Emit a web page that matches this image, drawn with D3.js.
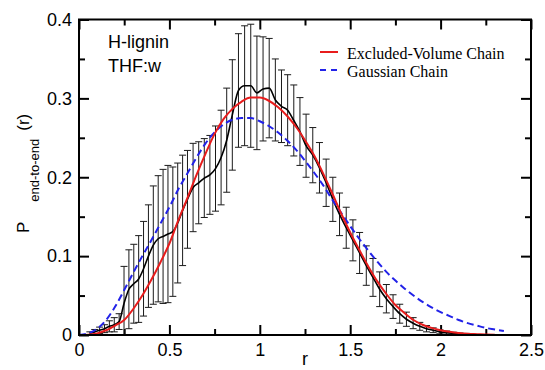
<!DOCTYPE html>
<html>
<head>
<meta charset="utf-8">
<script src="https://cdn.jsdelivr.net/npm/d3@7"></script>
<style>
  body { margin: 0; background: #fff; }
  svg { display: block; }
</style>
</head>
<body>
<svg id="chart" width="545" height="370"></svg>
<script>
// simulated histogram: bin centres, mean and std
let rBins = [0.06, 0.087, 0.114, 0.141, 0.168, 0.195, 0.222, 0.249, 0.276, 0.303, 0.33, 0.357, 0.384, 0.411, 0.438, 0.465, 0.492, 0.519, 0.546, 0.573, 0.6,
    0.631, 0.662, 0.693, 0.724, 0.755, 0.786, 0.817, 0.848,
    0.882, 0.916, 0.95, 0.984, 1.018, 1.052, 1.086, 1.12, 1.154, 1.188, 1.222, 1.256,
    1.293, 1.33, 1.367, 1.404, 1.441, 1.478, 1.515, 1.552, 1.589, 1.626, 1.663, 1.7, 1.737, 1.774, 1.811, 1.848, 1.885, 1.922, 1.959, 1.996, 2.033, 2.07, 2.107, 2.144, 2.18];
let meanP = [0.002, 0.004, 0.006, 0.008, 0.011, 0.013, 0.017, 0.04, 0.058, 0.065, 0.071, 0.084, 0.1, 0.114, 0.122, 0.125, 0.128, 0.131, 0.142, 0.158, 0.172,
    0.187, 0.193, 0.199, 0.203, 0.211, 0.225, 0.247, 0.279,
    0.31, 0.316, 0.316, 0.307, 0.312, 0.313, 0.298, 0.29, 0.285, 0.272, 0.258, 0.24,
    0.228, 0.212, 0.193, 0.172, 0.153, 0.136, 0.12, 0.104, 0.088, 0.073, 0.058, 0.046, 0.036, 0.027, 0.02, 0.015, 0.011, 0.008, 0.006, 0.004, 0.003, 0.002, 0.0015, 0.001, 0.0005];
let errP = [0.002, 0.003, 0.004, 0.005, 0.007, 0.009, 0.01, 0.047, 0.05, 0.05, 0.055, 0.06, 0.065, 0.075, 0.08, 0.085, 0.087, 0.082, 0.076, 0.07, 0.062,
    0.056, 0.052, 0.05, 0.05, 0.054, 0.06, 0.066, 0.07,
    0.072, 0.076, 0.078, 0.072, 0.066, 0.063, 0.052, 0.046, 0.045, 0.045, 0.043, 0.04,
    0.035, 0.032, 0.03, 0.028, 0.027, 0.026, 0.026, 0.026, 0.025, 0.024, 0.022, 0.018, 0.015, 0.012, 0.009, 0.007, 0.005, 0.004, 0.003, 0.0025, 0.002, 0.0015, 0.001, 0.001, 0.0005];

// model curves
let rModel = [0, 0.05, 0.1, 0.15, 0.2, 0.25, 0.3, 0.35, 0.4, 0.45, 0.5, 0.55, 0.6, 0.65, 0.7, 0.75, 0.8, 0.85, 0.9, 0.95,
    1.0, 1.05, 1.1, 1.15, 1.2, 1.25, 1.3, 1.35, 1.4, 1.45, 1.5, 1.55, 1.6, 1.65, 1.7, 1.75, 1.8, 1.85, 1.9, 1.95,
    2.0, 2.05, 2.1, 2.15, 2.2, 2.25, 2.3, 2.35];
let excludedP = [0, 0.0003, 0.002, 0.006, 0.012, 0.019, 0.033, 0.05, 0.07, 0.092, 0.116, 0.146, 0.174, 0.203, 0.23, 0.255, 0.274, 0.287, 0.296, 0.301,
    0.301, 0.297, 0.289, 0.278, 0.264, 0.247, 0.228, 0.205, 0.18, 0.154, 0.13, 0.108, 0.087, 0.068, 0.052, 0.038, 0.028, 0.019, 0.013, 0.009,
    0.006, 0.004, 0.0025, 0.0015, 0.001, 0.0005, 0.0002, null];
let gaussianP = [0, 0.002, 0.008, 0.019, 0.036, 0.057, 0.079, 0.1, 0.12, 0.141, 0.162, 0.185, 0.205, 0.225, 0.243, 0.257, 0.267, 0.273, 0.275, 0.275,
    0.271, 0.265, 0.257, 0.247, 0.235, 0.221, 0.206, 0.19, 0.172, 0.155, 0.138, 0.122, 0.107, 0.093, 0.08, 0.069, 0.059, 0.05, 0.042, 0.035,
    0.029, 0.024, 0.019, 0.015, 0.012, 0.009, 0.007, 0.005];

let xMajor = [0, 0.5, 1, 1.5, 2, 2.5];
let xMinor = [0.25, 0.75, 1.25, 1.75, 2.25];
let yMajor = [0, 0.1, 0.2, 0.3, 0.4];
let yMinor = [0.05, 0.15, 0.25, 0.35];
let legendLabels = ["Excluded-Volume Chain", "Gaussian Chain"];
let systemLabels = ["H-lignin", "THF:w"];

let svg = d3.select("svg#chart"),
    margin = {top: 19.5, right: 14, bottom: 35, left: 79},
    width = +svg.attr("width") - margin.left - margin.right,
    height = +svg.attr("height") - margin.top - margin.bottom,
    g = svg.append("g").attr("transform", "translate(" + margin.left + "," + margin.top + ")");

let x = d3.scaleLinear().domain([0, 2.5]).range([0, width]);
let y = d3.scaleLinear().domain([0, 0.4]).range([height, 0]);

g.append("defs").append("clipPath")
    .attr("id", "clip")
    .append("rect")
    .attr("width", width)
    .attr("height", height);

let sans = "'Liberation Sans', Arial, sans-serif";
let serif = "'Liberation Serif', 'Times New Roman', serif";

function styleAxis(sel) {
    sel.select(".domain").remove();
    sel.selectAll("line").attr("stroke", "#000").attr("stroke-width", 2);
    sel.selectAll("text").attr("font-family", sans).attr("font-size", 18).attr("fill", "#000");
}

// bottom / left with labels
g.append("g").attr("transform", "translate(0," + height + ")")
    .call(d3.axisBottom(x).tickValues(xMajor).tickFormat(d => String(d)).tickSizeInner(-10).tickSizeOuter(0).tickPadding(8))
    .call(styleAxis);
g.append("g").attr("transform", "translate(0," + height + ")")
    .call(d3.axisBottom(x).tickValues(xMinor).tickFormat("").tickSizeInner(-6).tickSizeOuter(0))
    .call(styleAxis);
g.append("g")
    .call(d3.axisLeft(y).tickValues(yMajor).tickFormat(d => String(d)).tickSizeInner(-10).tickSizeOuter(0).tickPadding(7))
    .call(styleAxis);
g.append("g")
    .call(d3.axisLeft(y).tickValues(yMinor).tickFormat("").tickSizeInner(-6).tickSizeOuter(0))
    .call(styleAxis);
// top / right, ticks only
g.append("g")
    .call(d3.axisTop(x).tickValues(xMajor).tickFormat("").tickSizeInner(-10).tickSizeOuter(0))
    .call(styleAxis);
g.append("g")
    .call(d3.axisTop(x).tickValues(xMinor).tickFormat("").tickSizeInner(-6).tickSizeOuter(0))
    .call(styleAxis);
g.append("g").attr("transform", "translate(" + width + ",0)")
    .call(d3.axisRight(y).tickValues(yMajor).tickFormat("").tickSizeInner(-10).tickSizeOuter(0))
    .call(styleAxis);
g.append("g").attr("transform", "translate(" + width + ",0)")
    .call(d3.axisRight(y).tickValues(yMinor).tickFormat("").tickSizeInner(-6).tickSizeOuter(0))
    .call(styleAxis);

let plot = g.append("g").attr("clip-path", "url(#clip)");

// error bars
let bars = plot.append("g").attr("stroke", "#1a1a1a").attr("stroke-width", 1);
rBins.forEach(function(r, i) {
    let px = x(r), top = y(meanP[i] + errP[i]), bot = y(meanP[i] - errP[i]);
    bars.append("line").attr("x1", px).attr("x2", px).attr("y1", top).attr("y2", bot);
    bars.append("line").attr("x1", px - 3.5).attr("x2", px + 3.5).attr("y1", top).attr("y2", top);
    bars.append("line").attr("x1", px - 3.5).attr("x2", px + 3.5).attr("y1", bot).attr("y2", bot);
});

let line = d3.line()
    .defined(d => d[1] !== null)
    .x(d => x(d[0]))
    .y(d => y(d[1]))
    .curve(d3.curveMonotoneX);

plot.append("path")
    .datum(rBins.map((r, i) => [r, meanP[i]]))
    .attr("d", line)
    .attr("fill", "none")
    .attr("stroke", "#000")
    .attr("stroke-width", 1.6);

plot.append("path")
    .datum(rModel.map((r, i) => [r, gaussianP[i]]))
    .attr("d", line)
    .attr("fill", "none")
    .attr("stroke", "#2222e8")
    .attr("stroke-width", 2)
    .attr("stroke-dasharray", "7,4");

plot.append("path")
    .datum(rModel.map((r, i) => [r, excludedP[i]]))
    .attr("d", line)
    .attr("fill", "none")
    .attr("stroke", "#e81c1c")
    .attr("stroke-width", 2);

// frame
g.append("rect")
    .attr("width", width)
    .attr("height", height)
    .attr("fill", "none")
    .attr("stroke", "#000")
    .attr("stroke-width", 2);

// legend
let legend = g.append("g").attr("transform", "translate(" + (320 - margin.left) + "," + (52 - margin.top) + ")");
legend.append("line").attr("x1", 0).attr("x2", 18).attr("y1", 0).attr("y2", 0)
    .attr("stroke", "#e81c1c").attr("stroke-width", 2);
legend.append("line").attr("x1", 0).attr("x2", 18).attr("y1", 18).attr("y2", 18)
    .attr("stroke", "#2222e8").attr("stroke-width", 2).attr("stroke-dasharray", "6,5");
legend.selectAll("text.leg")
    .data(legendLabels)
    .enter().append("text")
    .attr("class", "leg")
    .attr("x", 27)
    .attr("y", (d, i) => 7 + i * 18)
    .attr("font-family", serif)
    .attr("font-size", 16)
    .text(d => d);

// system annotation
g.selectAll("text.sys")
    .data(systemLabels)
    .enter().append("text")
    .attr("class", "sys")
    .attr("x", 108 - margin.left)
    .attr("y", (d, i) => 48 - margin.top + i * 24)
    .attr("font-family", sans)
    .attr("font-size", 18)
    .text(d => d);

// axis titles
svg.append("text")
    .attr("x", 305)
    .attr("y", 365)
    .attr("text-anchor", "middle")
    .attr("font-family", sans)
    .attr("font-size", 18)
    .text("r");

let ylab = svg.append("text")
    .attr("transform", "translate(29,233) rotate(-90)")
    .attr("font-family", sans)
    .attr("font-size", 17);
ylab.append("tspan").text("P");
ylab.append("tspan").attr("font-size", 13).attr("dx", 20).attr("dy", 10).text("end-to-end");
ylab.append("tspan").attr("dx", 8).attr("dy", -10).text("(r)");
</script>
</body>
</html>
